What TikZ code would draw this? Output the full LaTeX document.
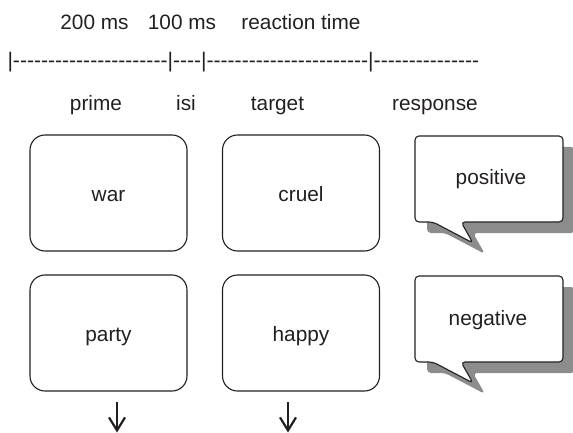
\documentclass[tikz,border=0pt]{standalone}
\usepackage{fontspec}
\newfontfamily\lsf{Liberation Sans}
\usetikzlibrary{arrows.meta}
\definecolor{ink}{HTML}{231F20}
\definecolor{shade}{RGB}{140,140,140}
\begin{document}
\begin{tikzpicture}[x=1pt,y=-1pt,
  txt/.style={font=\lsf\fontsize{20.8}{25}\selectfont, text=ink, inner sep=0pt},
  stim/.style={txt, draw=ink, line width=1.1pt, rounded corners=15pt, minimum width=157pt, minimum height=116pt, text height=16pt, text depth=0pt, fill=white},
  bubble/.style={draw=ink, line width=1.1pt, fill=white, rounded corners=4pt},
  bshadow/.style={fill=shade, rounded corners=4pt},
  down/.style={draw=ink, line width=2.2pt, -{Straight Barb[length=13pt,width=16pt]}}
]
\useasboundingbox (0,0) rectangle (573,433);
% header
\node[txt, anchor=base] (t200) at (94.5,30) {200 ms};
\node[txt, anchor=base] (t100) at (182,30) {100 ms};
\node[txt, anchor=base] (trt) at (301,30) {reaction time};
\node[txt, font=\lsf\fontsize{21.1}{25}\selectfont, anchor=base west] (tl) at (7.3,67.5) {|----------------------|----|-----------------------|---------------};
\node[txt, anchor=base] (lprime) at (96,111) {prime};
\node[txt, anchor=base] (lisi) at (186,111) {isi};
\node[txt, anchor=base] (ltarget) at (277.5,111) {target};
\node[txt, anchor=base] (lresp) at (435,111) {response};
% stimulus boxes
\node[stim] (war) at (108.5,193) {war};
\node[stim] (cruel) at (301,193) {cruel};
\node[stim] (party) at (108.5,333) {party};
\node[stim] (happy) at (301,333) {happy};
% response bubbles
\foreach \o/\w/\n/\cx in {0/positive/pos/491, 140/negative/neg/488}{
  \fill[bshadow, shift={(12,11)}] (415,136+\o) -- (563,136+\o) -- (563,222+\o) -- (461,222+\o) -- (473,243+\o) -- (433,222+\o) -- (415,222+\o) -- cycle;
  \draw[bubble] (415,136+\o) -- (563,136+\o) -- (563,222+\o) -- (461,222+\o) -- (473,243+\o) -- (433,222+\o) -- (415,222+\o) -- cycle;
  \node[txt, anchor=base] (\n) at (\cx,185+\o) {\w};
}
% arrows
\coordinate (a1s) at (117,402);
\coordinate (a1e) at (117,432.5);
\coordinate (a2s) at (288,402);
\coordinate (a2e) at (288,432.5);
\draw[down] (a1s) -- (a1e);
\draw[down] (a2s) -- (a2e);
\end{tikzpicture}
\end{document}
